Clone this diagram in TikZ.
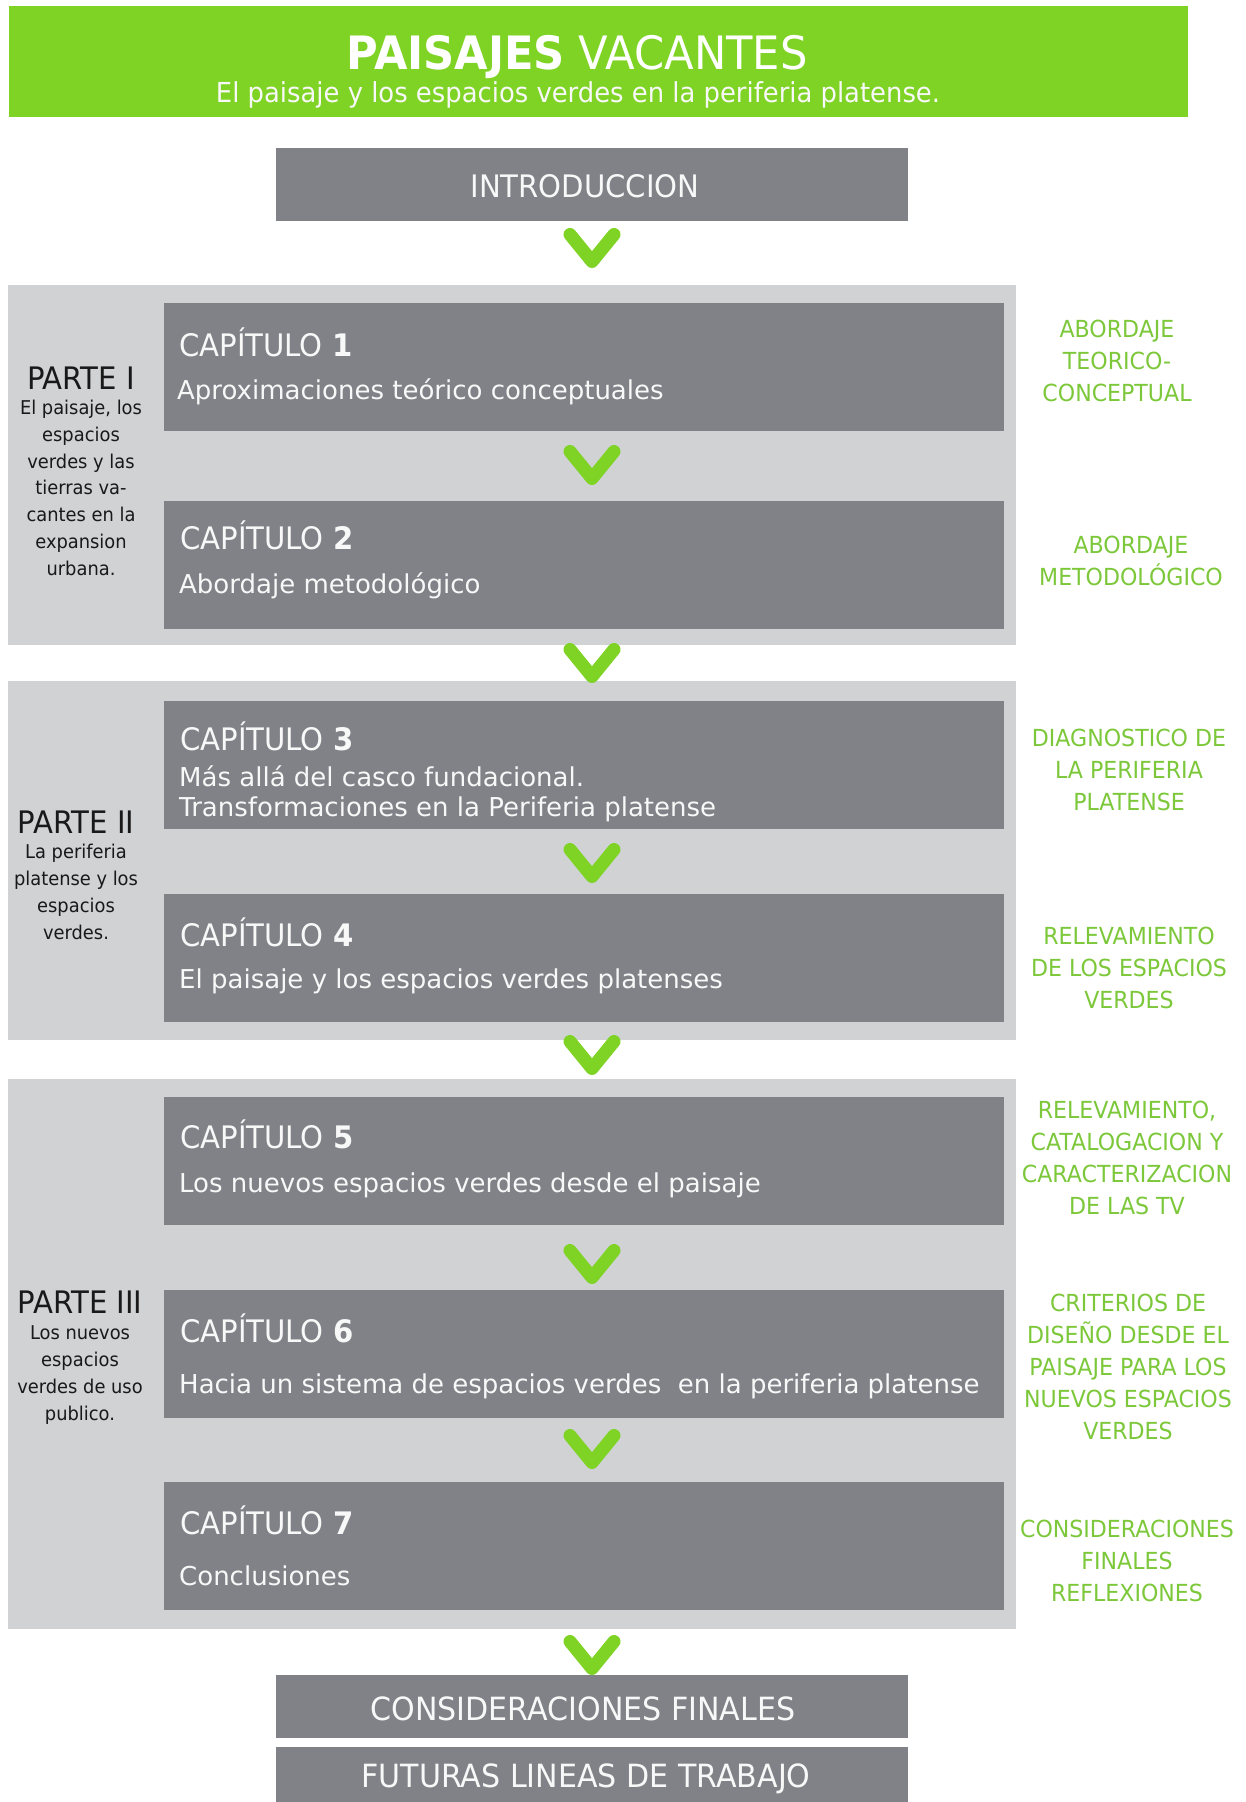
\documentclass[tikz,border=0pt]{standalone}
\usepackage{fontspec}
\setmainfont{DejaVu Sans}
\newfontfamily\condfont[FakeStretch=0.94]{DejaVu Sans}
\definecolor{verde}{RGB}{126,211,36}
\definecolor{verdetxt}{RGB}{124,200,58}
\definecolor{gris}{RGB}{128,130,135}
\definecolor{grisclaro}{RGB}{208,210,212}
\definecolor{blanco}{RGB}{248,248,248}
\definecolor{negro}{RGB}{25,25,25}

\begin{document}
\begin{tikzpicture}[x=1pt, y=-1pt,
		bloque/.style={rectangle, fill=gris, inner sep=0pt},
		fondo/.style={rectangle, fill=grisclaro, inner sep=0pt, minimum width=1008pt},
		capitulo/.style={bloque, minimum width=840pt, minimum height=128pt},
		central/.style={bloque, minimum width=632pt},
		titcap/.style={anchor=base west, inner sep=0pt, text=blanco, font=\condfont\fontsize{31}{31}\selectfont},
		subcap/.style={anchor=base west, inner sep=0pt, text=blanco, align=left, font=\fontsize{26}{30}\selectfont},
		rotulo/.style={anchor=base, inner sep=0pt, text=blanco, font=\condfont\fontsize{32}{32}\selectfont},
		parte/.style={anchor=base, inner sep=0pt, text=negro, font=\condfont\fontsize{31}{31}\selectfont},
		partetxt/.style={anchor=base, inner sep=0pt, text=negro, align=center, font=\condfont\fontsize{19}{26.7}\selectfont},
		etiqueta/.style={anchor=base, inner sep=0pt, text=verdetxt, align=center, font=\condfont\fontsize{23.5}{32}\selectfont},
		flecha/.style={draw=verde, line width=13pt, line cap=round, line join=round}]
	\fill[white] (0,0) rectangle (1246,1802);
	\useasboundingbox (0,0) rectangle (1246,1802);
	% cabecera
	\node[rectangle, fill=verde, inner sep=0pt, minimum width=1179pt, minimum height=111pt] (cabecera) at (598.5,61.5) {};
	\node[anchor=base, inner sep=0pt, text=white, font=\condfont\fontsize{46}{46}\selectfont] (titulo) at (577,69) {\textbf{PAISAJES} VACANTES};
	\node[anchor=base, inner sep=0pt, text=blanco, font=\condfont\fontsize{27.5}{30}\selectfont] (subtitulo) at (578,102) {El paisaje y los espacios verdes en la periferia platense.};
	\node[central, minimum height=73pt] (intro) at (592,184.5) {};
	\node[rotulo, font=\condfont\fontsize{31}{31}\selectfont] (introtxt) at (585,197) {INTRODUCCION};
	% partes (multi-line nodes sit on their last baseline)
	\node[fondo, minimum height=360pt] (parte1) at (512,465) {};
	\node[fondo, minimum height=359pt] (parte2) at (512,860.5) {};
	\node[fondo, minimum height=550pt] (parte3) at (512,1354) {};
	\node[parte] (p1a) at (81,389) {PARTE I};
	\node[partetxt] (p1b) at (81,575) {El paisaje, los\\espacios\\verdes y las\\tierras va-\\cantes en la\\expansion\\urbana.};
	\node[parte] (p2a) at (76,833) {PARTE II};
	\node[partetxt] (p2b) at (76,939) {La periferia\\platense y los\\espacios\\verdes.};
	\node[parte] (p3a) at (80,1313) {PARTE III};
	\node[partetxt] (p3b) at (80,1420) {Los nuevos\\espacios\\verdes de uso\\publico.};
	% capitulos
	\node[capitulo] (cap1) at (583.5,367) {};
	\node[capitulo] (cap2) at (583.5,564.5) {};
	\node[capitulo] (cap3) at (583.5,765) {};
	\node[capitulo] (cap4) at (583.5,958) {};
	\node[capitulo] (cap5) at (583.5,1161) {};
	\node[capitulo] (cap6) at (583.5,1354) {};
	\node[capitulo] (cap7) at (583.5,1546) {};
	\node[titcap] (c1a) at (179,356) {CAPÍTULO \textbf{1}};
	\node[subcap] (c1b) at (177,399) {Aproximaciones teórico conceptuales};
	\node[titcap] (c2a) at (180,549) {CAPÍTULO \textbf{2}};
	\node[subcap] (c2b) at (179,593) {Abordaje metodológico};
	\node[titcap] (c3a) at (180,750) {CAPÍTULO \textbf{3}};
	\node[subcap] (c3b) at (179,816) {Más allá del casco fundacional.\\Transformaciones en la Periferia platense};
	\node[titcap] (c4a) at (180,946) {CAPÍTULO \textbf{4}};
	\node[subcap] (c4b) at (179,988) {El paisaje y los espacios verdes platenses};
	\node[titcap] (c5a) at (180,1148) {CAPÍTULO \textbf{5}};
	\node[subcap] (c5b) at (179,1192) {Los nuevos espacios verdes desde el paisaje};
	\node[titcap] (c6a) at (180,1342) {CAPÍTULO \textbf{6}};
	\node[subcap] (c6b) at (179,1393) {Hacia un sistema de espacios verdes\ \ en la periferia platense};
	\node[titcap] (c7a) at (180,1534) {CAPÍTULO \textbf{7}};
	\node[subcap] (c7b) at (179,1585) {Conclusiones};
	% cierre
	\node[central, minimum height=63pt] (consid) at (592,1706.5) {};
	\node[rotulo] (considtxt) at (583,1720) {CONSIDERACIONES FINALES};
	\node[central, minimum height=55pt] (futuras) at (592,1774.5) {};
	\node[rotulo] (futurastxt) at (586,1787) {FUTURAS LINEAS DE TRABAJO};
	% etiquetas verdes
	\node[etiqueta] (e1) at (1117,401) {ABORDAJE\\TEORICO-\\CONCEPTUAL};
	\node[etiqueta] (e2) at (1131,585) {ABORDAJE\\METODOLÓGICO};
	\node[etiqueta] (e3) at (1129,810) {DIAGNOSTICO DE\\LA PERIFERIA\\PLATENSE};
	\node[etiqueta] (e4) at (1129,1008) {RELEVAMIENTO\\DE LOS ESPACIOS\\VERDES};
	\node[etiqueta] (e5) at (1127,1214) {RELEVAMIENTO,\\CATALOGACION Y\\CARACTERIZACION\\DE LAS TV};
	\node[etiqueta] (e6) at (1128,1439) {CRITERIOS DE\\DISEÑO DESDE EL\\PAISAJE PARA LOS\\NUEVOS ESPACIOS\\VERDES};
	\node[etiqueta] (e7) at (1127,1601) {CONSIDERACIONES\\FINALES\\REFLEXIONES};
	% flechas
	\path
	coordinate (v1) at (592,268)
	coordinate (v2) at (592,485)
	coordinate (v3) at (592,683)
	coordinate (v4) at (592,883)
	coordinate (v5) at (592,1075)
	coordinate (v6) at (592,1284)
	coordinate (v7) at (592,1469)
	coordinate (v8) at (592,1675)
	;
	\foreach \v in {1,...,8}
		\draw[flecha] (v\v) ++(-22,-33.5) -- ++(22,27) -- ++(22,-27);
\end{tikzpicture}
\end{document}
